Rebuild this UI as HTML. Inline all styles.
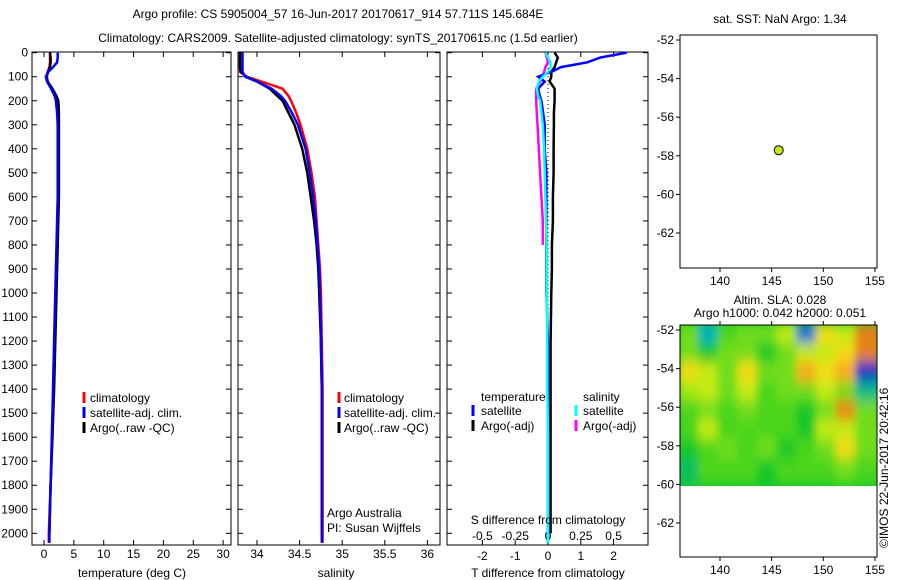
<!DOCTYPE html>
<html><head><meta charset="utf-8">
<style>
html,body{margin:0;padding:0;background:#fff;}
svg{display:block;font-family:"Liberation Sans",sans-serif;}
text{font-size:12px;fill:#000;}
</style></head>
<body>
<svg id="c" width="900" height="580" viewBox="0 0 900 580" xmlns="http://www.w3.org/2000/svg">
<defs>
<clipPath id="slaclip"><rect x="680" y="325" width="197" height="161"/></clipPath>
<filter id="blur" x="-10%" y="-10%" width="120%" height="120%"><feGaussianBlur stdDeviation="4 7"/></filter>
</defs>
<text x="338" y="18" text-anchor="middle">Argo profile: CS 5905004_57 16-Jun-2017 20170617_914 57.711S 145.684E</text>
<text x="338" y="42" text-anchor="middle">Climatology: CARS2009. Satellite-adjusted climatology: synTS_20170615.nc (1.5d earlier)</text>
<text x="780" y="23" text-anchor="middle">sat. SST: NaN Argo: 1.34</text>
<text x="780" y="304" text-anchor="middle">Altim. SLA: 0.028</text>
<text x="780" y="317" text-anchor="middle">Argo h1000: 0.042 h2000: 0.051</text>
<text x="0" y="0" transform="translate(888,548) rotate(-90)">©IMOS 22-Jun-2017 20:42:16</text>
<g id="g"></g>
</svg>
<script>
// ---- data ----
const depths = [0,20,40,60,80,100,120,150,180,200,250,300,400,500,600,700,800,900,1000,1200,1400,1600,1800,2000,2040];
const tempClim = [1.0,1.0,1.0,0.9,0.6,0.5,0.6,1.2,1.8,2.1,2.3,2.4,2.4,2.4,2.4,2.3,2.2,2.1,2.0,1.8,1.6,1.4,1.1,0.8,0.8];
const tempSat  = [2.3,2.3,2.2,1.5,0.7,0.3,0.5,1.2,1.8,2.0,2.2,2.3,2.3,2.3,2.3,2.2,2.1,2.0,1.9,1.7,1.5,1.3,1.1,0.9,0.9];
const tempArgo = [1.0,1.1,1.1,1.0,0.7,0.4,0.6,1.4,2.1,2.4,2.5,2.5,2.5,2.5,2.5,2.4,2.3,2.2,2.1,1.9,1.7,1.4,1.1,0.9,null];
const salClim = [33.8,33.8,33.8,33.8,33.8,33.88,34.05,34.3,34.37,34.4,34.46,34.51,34.59,34.64,34.68,34.7,34.72,34.74,34.75,34.76,34.77,34.77,34.77,34.77,34.77];
const salSat  = [33.83,33.83,33.83,33.83,33.83,33.86,34.0,34.17,34.28,34.33,34.41,34.48,34.57,34.62,34.66,34.69,34.71,34.73,34.74,34.75,34.76,34.76,34.76,34.76,34.76];
const salArgo = [33.8,33.8,33.8,33.8,33.81,33.87,34.0,34.15,34.24,34.3,34.37,34.44,34.53,34.59,34.63,34.67,34.7,34.72,34.73,34.75,34.76,34.76,34.76,34.76,null];
const tdiffSat  = [2.4,1.6,1.2,0.4,0.1,-0.3,-0.1,-0.3,-0.25,-0.2,-0.15,-0.1,-0.1,-0.05,-0.05,-0.05,-0.05,-0.05,-0.05,0,0,0,0,0,0];
const tdiffArgo = [0.2,0.3,0.25,0.2,0.1,0.1,0.05,0.2,0.2,0.2,0.18,0.18,0.17,0.17,0.15,0.15,0.12,0.12,0.1,0.08,0.08,0.08,0.08,0.08,null];
const sdiffSat  = [-0.02,0.0,0.02,0.02,0.0,-0.04,-0.07,-0.085,-0.075,-0.06,-0.05,-0.04,-0.03,-0.025,-0.02,-0.015,-0.01,-0.01,-0.01,-0.005,-0.005,0,0,0,0];
const sdiffArgo = [-0.02,-0.01,0.0,-0.02,-0.03,-0.04,-0.06,-0.09,-0.09,-0.09,-0.085,-0.08,-0.07,-0.06,-0.05,-0.04,-0.04,null,null,null,null,null,null,null,null];
const depthTicks = [0,100,200,300,400,500,600,700,800,900,1000,1100,1200,1300,1400,1500,1600,1700,1800,1900,2000];
const tempTicks = [0,5,10,15,20,25,30];
const salTicks = [34,34.5,35,35.5,36];
const tdiffTicks = [-2,-1,0,1,2];
const sdiffTicks = [-0.5,-0.25,0,0.25,0.5];
const sdiffLabels = ["-0.5","-0.25","0","0.25","0.5"];
const lonTicks = [140,145,150,155];
const latTicks = [-52,-54,-56,-58,-60,-62];
const argoLon = [145.684];
const argoLat = [-57.711];
const slaLons = [137.2,139.1,141.0,142.9,144.8,146.7,148.6,150.5,152.4,154.3];
const slaLats = [-52.3,-53.3,-54.3,-55.3,-56.3,-57.3,-58.3,-59.3];
const slaRow0 = [0.5,-0.8,0.3,0.5,0.5,1,-1.5,1.5,1,2.5];
const slaRow1 = [0.5,0,0.5,0.5,0,0.5,1,1,1.5,2.5];
const slaRow2 = [1.5,1,0.5,1.5,0.5,0.5,2,1.5,2,-2];
const slaRow3 = [0.8,1,0.5,1,0.3,0.5,0.5,1,0.5,-0.5];
const slaRow4 = [0.3,0.5,0.3,0.5,0.3,0.3,0,0.5,2.5,0.5];
const slaRow5 = [0.3,1,0.3,0.3,0.3,0.3,0,1,1,0.5];
const slaRow6 = [0,0.3,0.5,0.3,0.5,0,0.3,0.5,1.5,0.5];
const slaRow7 = [-0.3,0.3,0.3,0.3,0,0.3,0.3,0.3,0.5,0.3];
const slaRows = [slaRow0,slaRow1,slaRow2,slaRow3,slaRow4,slaRow5,slaRow6,slaRow7];

// ---- scales ----
const NS="http://www.w3.org/2000/svg";
const G=document.getElementById('g');
function el(t,a,p){const e=document.createElementNS(NS,t);for(const k in a)e.setAttribute(k,a[k]);(p||G).appendChild(e);return e;}
const yD=d=>52.7+d*0.2403;
const xT=t=>44+t*5.97;
const xS=s=>257+(s-34)*85.2;
const xTd=v=>548+v*32.8;
const xSd=v=>548+v*131.2;
const xLon=l=>720+(l-140)*10.33;
const yLatTop=l=>40+(-52-l)*19.3;
const yLatBot=l=>330+(-52-l)*19.3;
const TOP=52,BOT=545;

function frame(x0,x1,name){
  const r=el('rect',{x:x0,y:TOP,width:x1-x0,height:BOT-TOP,fill:'none',stroke:'#000','stroke-width':1});
  
  
  depthTicks.forEach(d=>{const y=yD(d);el('line',{x1:x0,x2:x0+5,y1:y,y2:y,stroke:'#000'});el('line',{x1:x1-5,x2:x1,y1:y,y2:y,stroke:'#000'});});
}
function xticks(x0,x1,ticks,f,labels,ly){
  ticks.forEach((t,i)=>{const x=f(t);el('line',{x1:x,x2:x,y1:BOT,y2:BOT-5,stroke:'#000'});el('line',{x1:x,x2:x,y1:TOP,y2:TOP+5,stroke:'#000'});
  if(ly){const tx=el('text',{x:x,y:ly,'text-anchor':'middle'});tx.textContent=labels?labels[i]:t;
  
  }});
}
function line(xs,f,color,w,name,dash){
  let pts=[];depths.forEach((d,i)=>{if(xs[i]!==null)pts.push(f(xs[i]).toFixed(1)+','+yD(d).toFixed(1));});
  const p=el('polyline',{points:pts.join(' '),fill:'none',stroke:color,'stroke-width':w,'stroke-linejoin':'miter'});
  if(dash)p.setAttribute('stroke-dasharray',dash);
  
  
}
function txt(x,y,s,name,anchor){const t=el('text',{x:x,y:y,'text-anchor':anchor||'start'});t.textContent=s;
  
  return t;}
function bar(x,y,c){el('line',{x1:x,x2:x,y1:y-6,y2:y+5,stroke:c,'stroke-width':3});}

// depth labels
depthTicks.forEach(d=>{const t=txt(28,yD(d)+4,String(d),'depth-tick-label','end');});

// panel 1 temperature
frame(32,231,'temperature-panel');
xticks(32,231,tempTicks,xT,null,558);
line(tempClim,xT,'#f00',2.5,'temp-climatology-line');
line(tempArgo,xT,'#000',2.5,'temp-argo-line');
line(tempSat,xT,'#00f',2.5,'temp-satellite-line');
txt(132,577,'temperature (deg C)','temperature-axis-title','middle');
bar(84,398,'#f00');txt(90,402,'climatology','legend-climatology');
bar(84,413,'#00f');txt(90,417,'satellite-adj. clim.','legend-satellite');
bar(84,428,'#000');txt(90,432,'Argo(..raw -QC)','legend-argo');

// panel 2 salinity
frame(238,440,'salinity-panel');
xticks(238,440,salTicks,xS,null,558);
line(salClim,xS,'#f00',2.5,'sal-climatology-line');
line(salArgo,xS,'#000',2.5,'sal-argo-line');
line(salSat,xS,'#00f',2.5,'sal-satellite-line');
txt(336,577,'salinity','salinity-axis-title','middle');
bar(339,398,'#f00');txt(344,402,'climatology','legend-climatology');
bar(339,413,'#00f');txt(344,417,'satellite-adj. clim.','legend-satellite');
bar(339,428,'#000');txt(344,432,'Argo(..raw -QC)','legend-argo');
txt(327,517,'Argo Australia','argo-australia-label');
txt(327,532,'PI: Susan Wijffels','pi-label');

// panel 3 differences
frame(447,648,'difference-panel');
xticks(447,648,tdiffTicks,xTd,null,560);
sdiffTicks.forEach((t,i)=>txt(xSd(t),540,sdiffLabels[i],'s-diff-tick-label','middle'));
el('line',{x1:548,x2:548,y1:TOP,y2:BOT,stroke:'#000','stroke-dasharray':'1,3'});
line(tdiffArgo,xTd,'#000',2.5,'tdiff-argo-line');
line(sdiffArgo,xSd,'#f0f',2.5,'sdiff-argo-line');
line(tdiffSat,xTd,'#00f',2.5,'tdiff-satellite-line');
line(sdiffSat,xSd,'#0ff',2.5,'sdiff-satellite-line');
txt(548,524,'S difference from climatology','s-diff-axis-title','middle');
txt(548,577,'T difference from climatology','t-diff-axis-title','middle');
txt(481,401,'temperature','legend-temperature-heading');
txt(583,401,'salinity','legend-salinity-heading');
bar(473,411,'#00f');txt(481,415,'satellite','legend-t-satellite');
bar(473,426,'#000');txt(481,430,'Argo(-adj)','legend-t-argo');
bar(576,411,'#0ff');txt(583,415,'satellite','legend-s-satellite');
bar(576,426,'#f0f');txt(583,430,'Argo(-adj)','legend-s-argo');

// top map
el('rect',{x:680,y:35,width:197,height:233,fill:'none',stroke:'#000'});
latTicks.forEach(l=>{const y=yLatTop(l);el('line',{x1:680,x2:676,y1:y,y2:y,stroke:'#000'});txt(674,y+4,String(l),'lat-tick-label','end');});
lonTicks.forEach(l=>{const x=xLon(l);el('line',{x1:x,x2:x,y1:268,y2:272,stroke:'#000'});txt(x,285,String(l),'lon-tick-label','middle');});
argoLon.forEach((lo,i)=>{const c=el('circle',{cx:xLon(lo),cy:yLatTop(argoLat[i]),r:4.5,fill:'#cce61a',stroke:'#000','stroke-width':1});

});

// SLA map
function slaColor(v){
  const stops=[[-2,[0,40,200]],[-1,[0,170,230]],[0,[20,200,40]],[0.7,[150,230,20]],[1.3,[240,240,20]],[2,[250,170,30]],[3,[210,90,10]]];
  if(v<=stops[0][0])return 'rgb('+stops[0][1]+')';
  for(let i=1;i<stops.length;i++){if(v<=stops[i][0]){const a=stops[i-1],b=stops[i],f=(v-a[0])/(b[0]-a[0]);
    return 'rgb('+a[1].map((c,k)=>Math.round(c+(b[1][k]-c)*f)).join(',')+')';}}
  return 'rgb('+stops[stops.length-1][1]+')';
}
const slaG=el('g',{'clip-path':'url(#slaclip)'});


el('rect',{x:680,y:325,width:197,height:161,fill:'rgb(20,200,40)'},slaG);
const inner=el('g',{filter:'url(#blur)'},slaG);
const dLon=1.9,dLat=1.0;
slaRows.forEach((row,r)=>row.forEach((v,c)=>{
  const x0=xLon(slaLons[c]-dLon/2),x1=xLon(slaLons[c]+dLon/2),y0=yLatBot(slaLats[r]+dLat/2),y1=yLatBot(slaLats[r]-dLat/2);
  const cell=el('rect',{x:x0-3,y:y0-3,width:x1-x0+6,height:y1-y0+6,fill:slaColor(v)},inner);
  
  
}));
el('rect',{x:680,y:325,width:197,height:232,fill:'none',stroke:'#000'});
latTicks.forEach(l=>{const y=yLatBot(l);el('line',{x1:680,x2:676,y1:y,y2:y,stroke:'#000'});txt(674,y+4,String(l),'lat-tick-label','end');});
lonTicks.forEach(l=>{const x=xLon(l);el('line',{x1:x,x2:x,y1:557,y2:561,stroke:'#000'});el('line',{x1:x,x2:x,y1:325,y2:321,stroke:'#000'});txt(x,574,String(l),'lon-tick-label','middle');});
</script>
</body></html>
